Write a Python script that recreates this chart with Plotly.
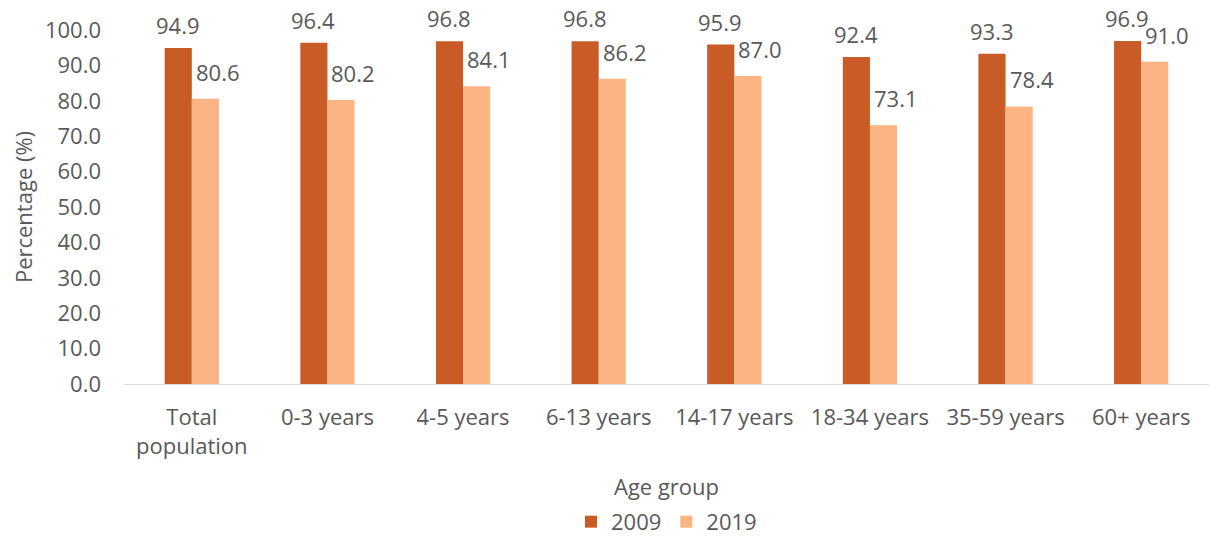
import plotly.graph_objects as go

categories = ["Total<br>population", "0-3 years", "4-5 years", "6-13 years",
              "14-17 years", "18-34 years", "35-59 years", "60+ years"]
values_2009 = [94.9, 96.4, 96.8, 96.8, 95.9, 92.4, 93.3, 96.9]
values_2019 = [80.6, 80.2, 84.1, 86.2, 87.0, 73.1, 78.4, 91.0]
series_names = ["2009", "2019"]
y_ticks = [0, 10, 20, 30, 40, 50, 60, 70, 80, 90, 100]

FONT = "Open Sans"
FS = 22
GREY = "#595959"
DARK = "#C95C26"
LIGHT = "#FBB482"

fig = go.Figure()
fig.add_trace(go.Bar(x=categories, y=values_2009, name=series_names[0],
                     marker=dict(color=DARK, line=dict(width=0))))
fig.add_trace(go.Bar(x=categories, y=values_2019, name=series_names[1],
                     marker=dict(color=LIGHT, line=dict(width=0))))

annotations = []
for cat, v in zip(categories, values_2009):
    annotations.append(dict(x=cat, y=v, xref="x", yref="y", text=f"{v:.1f}",
                            showarrow=False, xshift=-14, yshift=23,
                            yanchor="middle", xanchor="center",
                            font=dict(family=FONT, size=FS, color=GREY)))
for cat, v in zip(categories, values_2019):
    annotations.append(dict(x=cat, y=v, xref="x", yref="y", text=f"{v:.1f}",
                            showarrow=False, xshift=26, yshift=27,
                            yanchor="middle", xanchor="center",
                            font=dict(family=FONT, size=FS, color=GREY)))

fig.update_layout(
    width=1209, height=538,
    margin=dict(l=124, r=0, t=30, b=154),
    paper_bgcolor="white", plot_bgcolor="white",
    barmode="group", bargap=0.6, bargroupgap=0,
    font=dict(family=FONT, size=FS, color=GREY),
    showlegend=True,
    legend=dict(orientation="h", x=0.5, xanchor="center", xref="paper",
                y=0.03, yref="container", yanchor="middle",
                font=dict(size=FS, color=GREY),
                itemwidth=30, traceorder="normal"),
    annotations=annotations,
    xaxis=dict(showgrid=False, showline=True, linecolor="#D9D9D9", linewidth=1,
               ticks="", ticklabelstandoff=14, automargin=False,
               tickfont=dict(family=FONT, size=FS, color=GREY),
               title=dict(text="Age group", standoff=20,
                          font=dict(family=FONT, size=FS, color=GREY))),
    yaxis=dict(range=[0, 100], tickvals=y_ticks,
               ticktext=[f"{t:.1f}" for t in y_ticks],
               showgrid=False, zeroline=False, showline=False,
               ticks="", ticklabelstandoff=22, automargin=False,
               tickfont=dict(family=FONT, size=FS, color=GREY),
               title=dict(text="Percentage (%)", standoff=6,
                          font=dict(family=FONT, size=FS, color=GREY))),
)

fig.write_html("out.html",
               config={"displayModeBar": False},
               post_script="document.body.style.margin='0';")
